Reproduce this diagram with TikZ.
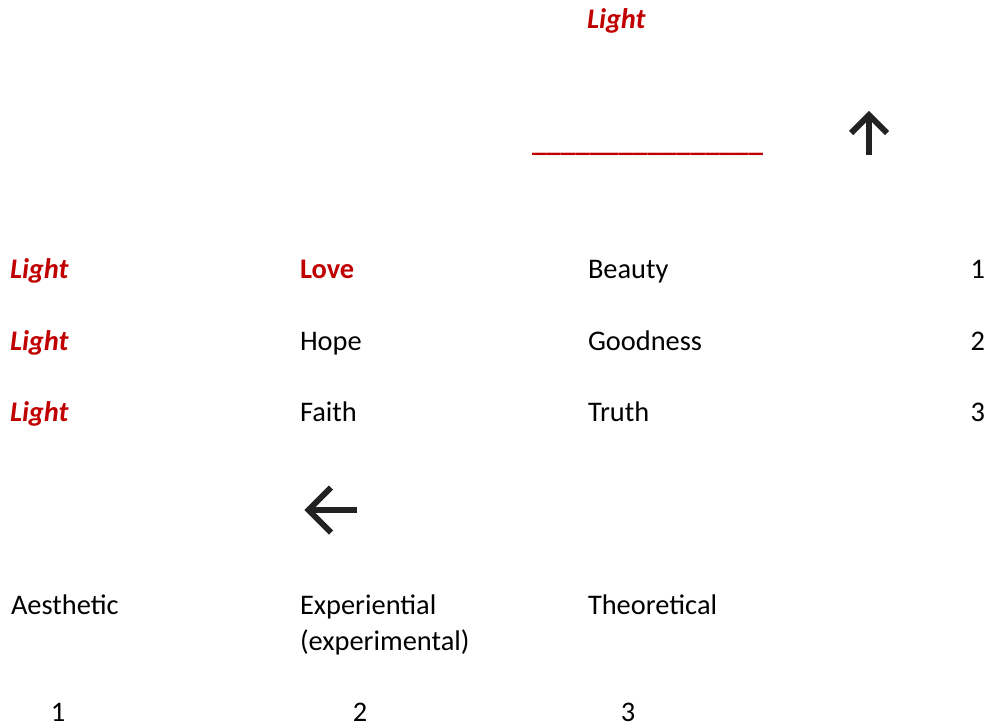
\documentclass[tikz,border=0pt]{standalone}
\usepackage{fontspec}
\setmainfont{Carlito}
\definecolor{lred}{HTML}{C00000}
\definecolor{arrowgray}{HTML}{222222}
\begin{document}
\begin{tikzpicture}[x=1pt,y=-1pt,
  txt/.style={anchor=base west,inner sep=0pt,outer sep=0pt,font=\fontsize{28.4}{36}\selectfont},
  redlight/.style={txt,text=lred,font=\fontsize{28.4}{36}\selectfont\bfseries\itshape},
  redbold/.style={txt,text=lred,font=\fontsize{28.4}{36}\selectfont\bfseries},
  redrule/.style={txt,text=lred,font=\fontsize{29}{36}\selectfont\bfseries},
  glyph/.style={draw=arrowgray,line width=6pt,line cap=butt,line join=miter}]
\useasboundingbox (0,0) rectangle (989,728);
% top
\node[redlight] (ltop) at (587,28) {Light};
\node[redrule] (rule) at (532,151) {\_\_\_\_\_\_\_\_\_\_\_\_\_\_\_\_};
\coordinate (upbot) at (869,155);
\coordinate (uptip) at (869,115);
\draw[glyph] (upbot) -- (uptip);
\draw[glyph] (851,133) -- (uptip) -- (887,133);
% rows
\node[redlight] (l1) at (10,278) {Light};
\node[redlight] (l2) at (10,350) {Light};
\node[redlight] (l3) at (10,421) {Light};
\node[redbold] (love) at (300,278) {Love};
\node[txt] (hope) at (300,350) {Hope};
\node[txt] (faith) at (300,421) {Faith};
\node[txt] (beauty) at (588,278) {Beauty};
\node[txt] (good) at (588,350) {Goodness};
\node[txt] (truth) at (588,421) {Truth};
\node[txt,anchor=base east] (n1) at (985,278) {1};
\node[txt,anchor=base east] (n2) at (985,350) {2};
\node[txt,anchor=base east] (n3) at (985,421) {3};
% left arrow
\coordinate (lefttip) at (308.5,510);
\coordinate (leftend) at (357,510);
\draw[glyph] (leftend) -- (lefttip);
\draw[glyph] (331,487.5) -- (lefttip) -- (331,532.5);
% bottom
\node[txt] (aes) at (11,614) {Aesthetic};
\node[txt,align=left] (exp) at (300,650) {Experiential\\(experimental)};
\node[txt] (theo) at (588,614) {Theoretical};
\node[txt,anchor=base] (b1) at (58,721) {1};
\node[txt,anchor=base] (b2) at (360,721) {2};
\node[txt,anchor=base] (b3) at (628,721) {3};
\end{tikzpicture}
\end{document}
